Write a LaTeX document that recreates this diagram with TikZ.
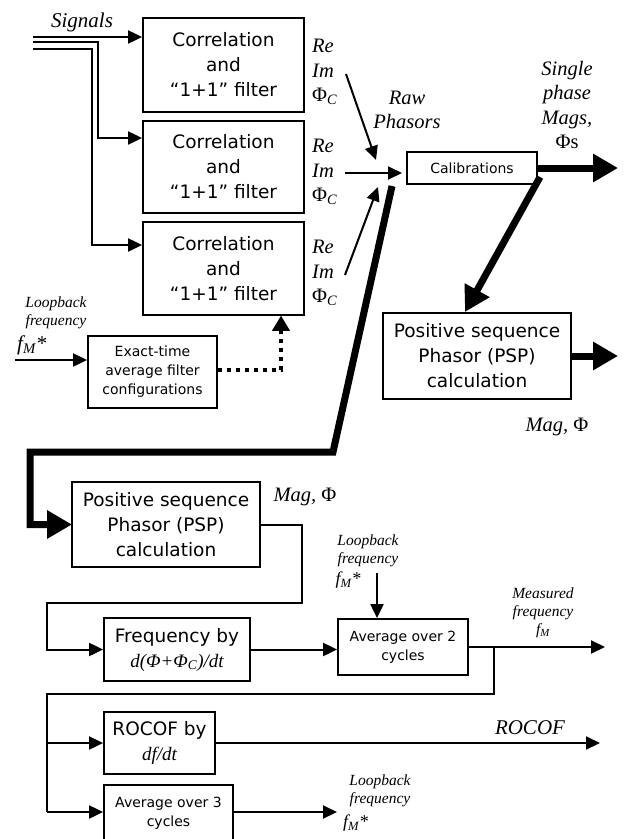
\documentclass[tikz,border=0pt]{standalone}
\usepackage{fontspec}
\setmainfont{Liberation Serif}
\newfontfamily\boxfont{DejaVu Sans}
\usetikzlibrary{arrows.meta}

\newcommand{\fM}{\textit{f}\textsubscript{\textit{M}}}
\newcommand{\PhiC}{Φ\textsubscript{\textit{C}}}

\tikzset{
  blk/.style={draw, line width=1.8pt, inner sep=0pt, align=center,
    font=\boxfont\fontsize{18.5}{25}\selectfont},
  sblk/.style={blk, font=\boxfont\fontsize{14}{19}\selectfont},
  lbl/.style={inner sep=0pt, align=center, font=\itshape\fontsize{20.5}{24.5}\selectfont},
  slbl/.style={inner sep=0pt, align=center, font=\itshape\fontsize{15.5}{18}\selectfont},
  wire/.style={line width=2pt},
  arr/.style={wire, -{Triangle[length=14pt,width=13pt]}},
  fat/.style={line width=7pt, line join=miter, -{Triangle[length=25pt,width=27pt]}},
  dots/.style={line width=4pt, dash pattern=on 4pt off 5pt},
}

\begin{document}
\begin{tikzpicture}[x=1pt,y=-1pt]
\fill[white] (0,0) rectangle (624,839);
\useasboundingbox (0,0) rectangle (624,839);

% ---------- correlation filters ----------
\node[blk, minimum width=161pt, minimum height=94pt] (b1) at (223.5,65)
  {Correlation\\and\\“1+1” filter};
\node[blk, minimum width=161pt, minimum height=92pt] (b2) at (223.5,167)
  {Correlation\\and\\“1+1” filter};
\node[blk, minimum width=161pt, minimum height=93pt] (b3) at (223.5,268.5)
  {Correlation\\and\\“1+1” filter};

% signal bus
\node[lbl, font=\itshape\fontsize{21}{24}\selectfont] (sig) at (82,22) {Signals};
\coordinate (s1) at (33,37);
\coordinate (s2) at (33,42);
\coordinate (s3) at (33,49);
\coordinate (k2) at (98,42);
\coordinate (k3) at (92,49);
\coordinate (e2) at (98,138);
\coordinate (e3) at (92,245);
\draw[arr] (s1) -- (s1 -| b1.west);
\draw[arr] (s2) -- (k2) -- (e2) -- (e2 -| b2.west);
\draw[arr] (s3) -- (k3) -- (e3) -- (e3 -| b3.west);

% raw phasor outputs
\node[lbl, align=left, anchor=west] (r1) at (312,72) {Re\\Im\\{\upshape\PhiC}};
\node[lbl, align=left, anchor=west] (r2) at (312,172) {Re\\Im\\{\upshape\PhiC}};
\node[lbl, align=left, anchor=west] (r3) at (312,273) {Re\\Im\\{\upshape\PhiC}};

\node[lbl] (raw) at (407,110) {Raw\\Phasors};

\node[sblk, minimum width=130pt, minimum height=32pt] (cal) at (472,168) {Calibrations};

\coordinate (a1s) at (346,74);  \coordinate (a1e) at (376,160);
\coordinate (a2s) at (345,173); \coordinate (a2e) at (402,173);
\coordinate (a3s) at (345,275); \coordinate (a3e) at (378,187);
\draw[arr] (a1s) -- (a1e);
\draw[arr] (a2s) -- (a2e);
\draw[arr] (a3s) -- (a3e);

% single phase output
\coordinate (out1) at (618,168);
\draw[fat] (cal.east) -- (out1);
\node[lbl] (sp) at (567,105) {Single\\phase\\Mags,\\{\upshape Φs}};

% positive sequence, upper branch
\node[blk, minimum width=188pt, minimum height=86pt] (pspR) at (477,356)
  {Positive sequence\\Phasor (PSP)\\calculation};
\coordinate (calc) at (540,177);
\coordinate (pspRt) at (465,312);
\draw[fat] (calc) -- (pspRt);
\coordinate (out2) at (618,356);
\draw[fat] (pspR.east) -- (out2);
\node[lbl] (mag1) at (557,427) {Mag, {\upshape Φ}};

% exact-time filter configuration
\node[sblk, minimum width=129pt, minimum height=72pt] (ex) at (152.5,372)
  {Exact-time\\average filter\\configurations};
\node[slbl] (lb1) at (56,313) {Loopback\\frequency};
\node[lbl, anchor=west, font=\itshape\fontsize{21}{24}\selectfont] (fm1) at (17,345) {\fM*};
\coordinate (in1) at (15,360);
\draw[arr] (in1) -- (in1 -| ex.west);
\coordinate (dk) at (281,370);
\coordinate (dt) at (281,329);
\draw[dots] (ex.east |- dk) -- (dk) -- (dt);
\draw[-{Triangle[length=15pt,width=18pt]}, line width=0.1pt] (dt) -- (dt |- b3.south);

% main phasor bus to the lower chain
\coordinate (p0) at (392,186);
\coordinate (p1) at (333,452);
\coordinate (p2) at (30,452);
\coordinate (p3) at (30,524.5);
\draw[fat] (p0) -- (p1) -- (p2) -- (p3) -- (p3 -| 72,0);

\node[blk, minimum width=188pt, minimum height=85pt] (pspL) at (166,524.5)
  {Positive sequence\\Phasor (PSP)\\calculation};
\node[lbl] (mag2) at (305,497) {Mag, {\upshape Φ}};

% frequency estimation
\node[blk, minimum width=146pt, minimum height=63pt] (fr) at (177,649.5)
  {Frequency by\\{\rmfamily\itshape\fontsize{19}{23}\selectfont d(Φ+\PhiC)/dt}};
\coordinate (q1) at (302,524.5);
\coordinate (q2) at (302,603);
\coordinate (q3) at (47,603);
\coordinate (q4) at (47,649.5);
\draw[arr] (pspL.east) -- (q1) -- (q2) -- (q3) -- (q4) -- (fr.west);

\node[sblk, minimum width=130pt, minimum height=56pt] (av2) at (403,647) {Average over 2\\cycles};
\draw[arr] (fr.east) -- (fr.east -| av2.west);
\node[slbl] (lb2) at (368,551) {Loopback\\frequency};
\node[lbl, font=\itshape\fontsize{18}{20}\selectfont] (fm2) at (348,580) {\fM*};
\coordinate (lt) at (377,573);
\draw[arr] (lt) -- (lt |- av2.north);

\coordinate (out3) at (605,647);
\draw[arr] (av2.east) -- (out3);
\node[slbl] (mf) at (543,613) {Measured\\frequency\\\fM};

% rate of change and averaging
\node[blk, minimum width=111pt, minimum height=62pt] (ro) at (159.5,743)
  {ROCOF by\\{\rmfamily\itshape\fontsize{19}{23}\selectfont df/dt}};
\node[sblk, minimum width=129pt, minimum height=56pt] (av3) at (168.5,813) {Average over 3\\cycles};

\coordinate (j0) at (494,647);
\coordinate (j1) at (494,694);
\coordinate (j2) at (47,694);
\coordinate (j3) at (47,812);
\draw[wire] (j0) -- (j1) -- (j2) -- (j3);
\draw[arr] (j2 |- ro.west) -- (ro.west);
\draw[arr] (j3) -- (j3 -| av3.west);

\coordinate (out4) at (600,743);
\draw[arr] (ro.east) -- (out4);
\node[lbl, font=\itshape\fontsize{21}{24}\selectfont] (rc) at (530,728) {ROCOF};

\coordinate (out5) at (337,812);
\draw[arr] (av3.east |- out5) -- (out5);
\node[slbl] (lb3) at (380,791) {Loopback\\frequency};
\node[lbl, anchor=west, font=\itshape\fontsize{18}{20}\selectfont] (fm3) at (343,823) {\fM*};
\end{tikzpicture}
\end{document}
